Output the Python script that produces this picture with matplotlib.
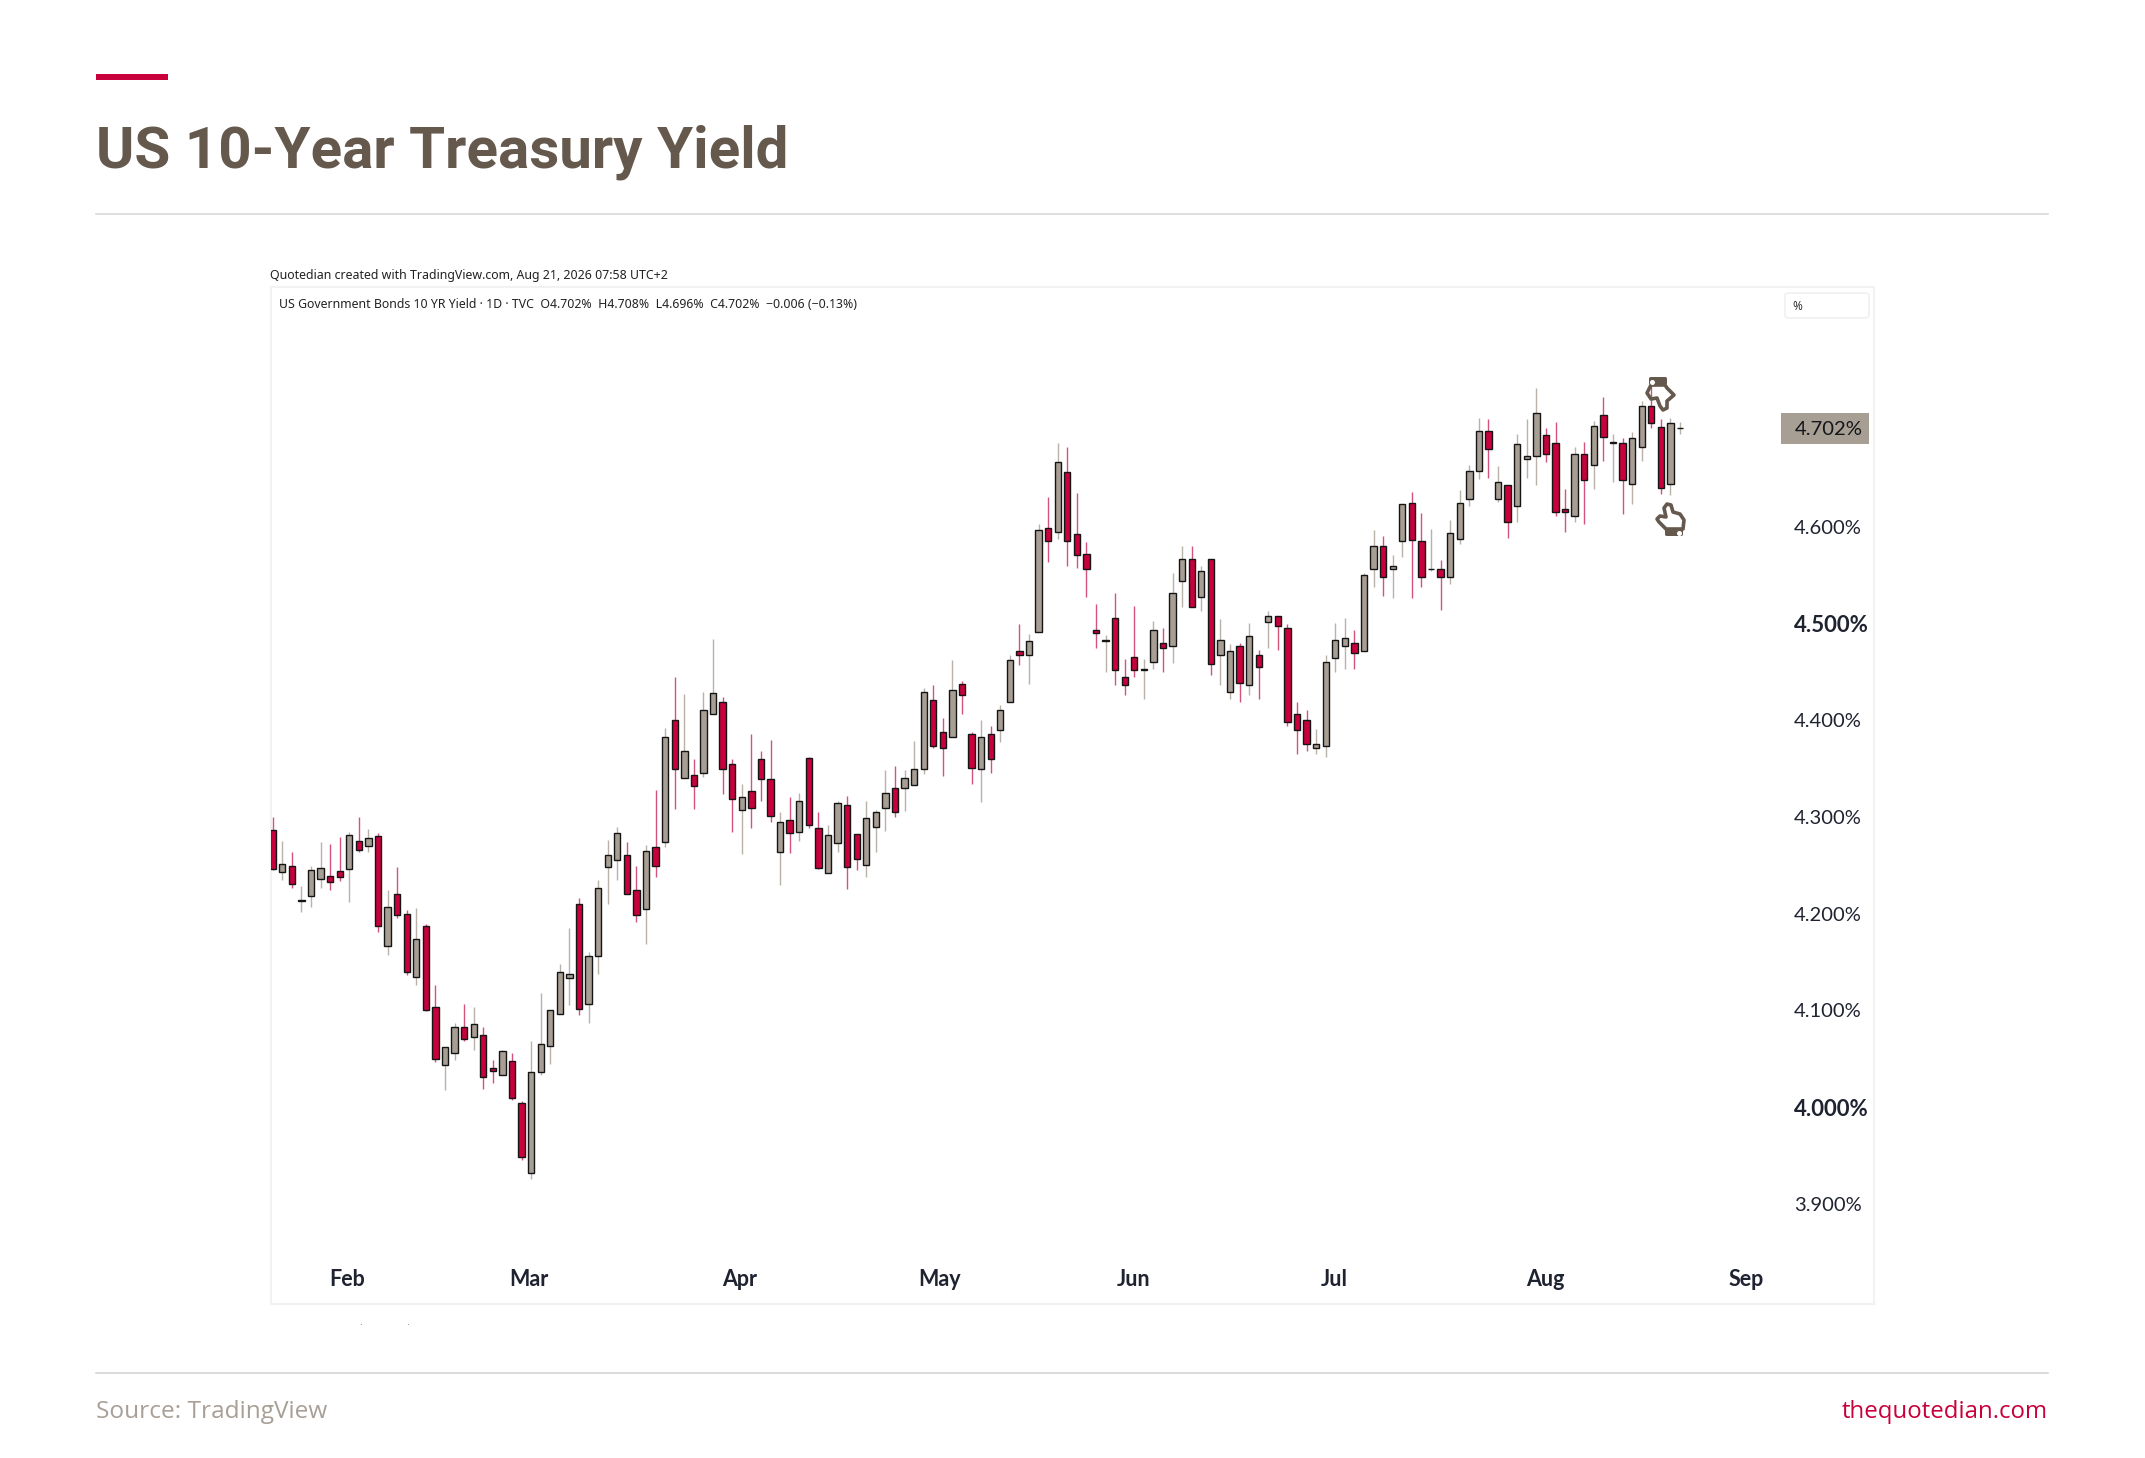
import numpy as np
import matplotlib as mpl
mpl.use('Agg')
import matplotlib.pyplot as plt
from matplotlib.patches import Rectangle, FancyBboxPatch, PathPatch
from matplotlib.path import Path

opens = [4.287,4.243,4.249,4.213,4.218,4.236,4.239,4.244,4.246,4.275,
         4.270,4.280,4.167,4.220,4.200,4.135,4.187,4.104,4.044,4.056,
         4.083,4.073,4.075,4.040,4.033,4.048,4.004,3.932,4.036,4.063,
         4.096,4.134,4.210,4.107,4.156,4.248,4.256,4.261,4.225,4.205,
         4.269,4.274,4.400,4.340,4.343,4.345,4.406,4.419,4.355,4.307,
         4.327,4.360,4.339,4.264,4.297,4.284,4.361,4.289,4.242,4.273,
         4.312,4.282,4.250,4.290,4.309,4.330,4.330,4.333,4.350,4.421,
         4.388,4.383,4.438,4.386,4.350,4.386,4.390,4.419,4.472,4.468,
         4.491,4.599,4.595,4.657,4.593,4.572,4.493,4.482,4.506,4.445,
         4.465,4.452,4.460,4.480,4.477,4.544,4.567,4.527,4.567,4.467,
         4.429,4.477,4.437,4.468,4.502,4.508,4.495,4.406,4.400,4.371,
         4.373,4.464,4.477,4.480,4.472,4.556,4.580,4.556,4.585,4.625,
         4.585,4.556,4.556,4.548,4.587,4.629,4.658,4.699,4.629,4.643,
         4.622,4.670,4.673,4.695,4.687,4.618,4.611,4.675,4.664,4.716,
         4.687,4.687,4.644,4.683,4.725,4.703,4.644,4.702]
highs = [4.300,4.275,4.264,4.229,4.249,4.274,4.272,4.279,4.284,4.300,
         4.288,4.283,4.225,4.248,4.204,4.206,4.189,4.126,4.062,4.087,
         4.107,4.104,4.083,4.049,4.059,4.056,4.006,4.068,4.118,4.100,
         4.148,4.185,4.216,4.160,4.235,4.276,4.290,4.274,4.249,4.271,
         4.328,4.392,4.445,4.427,4.360,4.429,4.484,4.424,4.360,4.334,
         4.386,4.368,4.380,4.305,4.321,4.325,4.362,4.305,4.292,4.317,
         4.322,4.282,4.317,4.307,4.349,4.353,4.349,4.379,4.433,4.436,
         4.402,4.462,4.441,4.388,4.400,4.394,4.416,4.467,4.500,4.489,
         4.603,4.631,4.687,4.683,4.635,4.584,4.520,4.488,4.532,4.463,
         4.518,4.463,4.503,4.495,4.552,4.580,4.580,4.560,4.567,4.505,
         4.479,4.480,4.501,4.473,4.513,4.508,4.500,4.419,4.411,4.391,
         4.468,4.501,4.506,4.493,4.552,4.597,4.591,4.571,4.624,4.636,
         4.614,4.598,4.566,4.607,4.638,4.664,4.713,4.712,4.663,4.643,
         4.696,4.712,4.744,4.702,4.708,4.639,4.683,4.688,4.709,4.734,
         4.696,4.692,4.698,4.730,4.748,4.712,4.713,4.708]
lows = [4.245,4.235,4.227,4.202,4.207,4.227,4.225,4.234,4.212,4.264,
        4.264,4.181,4.157,4.196,4.137,4.126,4.099,4.047,4.018,4.049,
        4.068,4.059,4.019,4.025,4.033,4.007,3.945,3.926,4.033,4.045,
        4.096,4.106,4.095,4.087,4.138,4.210,4.235,4.220,4.191,4.169,
        4.238,4.269,4.308,4.340,4.308,4.341,4.406,4.324,4.285,4.262,
        4.289,4.317,4.295,4.230,4.263,4.275,4.289,4.246,4.242,4.264,
        4.226,4.245,4.238,4.264,4.286,4.300,4.306,4.333,4.344,4.371,
        4.342,4.383,4.406,4.334,4.316,4.346,4.378,4.419,4.457,4.438,
        4.491,4.564,4.587,4.560,4.557,4.528,4.475,4.450,4.436,4.426,
        4.445,4.422,4.453,4.450,4.459,4.517,4.517,4.513,4.447,4.437,
        4.422,4.419,4.426,4.422,4.475,4.473,4.394,4.365,4.368,4.365,
        4.362,4.450,4.453,4.453,4.472,4.538,4.529,4.526,4.569,4.526,
        4.538,4.554,4.514,4.541,4.582,4.622,4.650,4.651,4.626,4.588,
        4.605,4.651,4.643,4.667,4.611,4.595,4.605,4.603,4.639,4.668,
        4.646,4.613,4.624,4.668,4.702,4.634,4.633,4.696]
closes = [4.246,4.251,4.231,4.214,4.245,4.247,4.233,4.238,4.281,4.266,
          4.278,4.187,4.207,4.199,4.140,4.174,4.100,4.050,4.062,4.083,
          4.071,4.086,4.031,4.037,4.058,4.009,3.949,4.036,4.065,4.100,
          4.140,4.138,4.102,4.156,4.227,4.261,4.283,4.220,4.199,4.265,
          4.249,4.383,4.350,4.368,4.332,4.411,4.428,4.350,4.319,4.321,
          4.309,4.339,4.301,4.295,4.283,4.317,4.292,4.247,4.281,4.315,
          4.248,4.257,4.299,4.305,4.325,4.305,4.340,4.350,4.429,4.373,
          4.371,4.431,4.426,4.351,4.383,4.360,4.411,4.462,4.467,4.482,
          4.597,4.585,4.667,4.585,4.571,4.556,4.490,4.483,4.452,4.437,
          4.452,4.453,4.493,4.475,4.532,4.567,4.517,4.554,4.458,4.483,
          4.472,4.439,4.487,4.455,4.508,4.498,4.398,4.390,4.376,4.376,
          4.460,4.483,4.485,4.470,4.550,4.580,4.548,4.560,4.624,4.586,
          4.548,4.556,4.548,4.594,4.625,4.658,4.699,4.681,4.646,4.605,
          4.686,4.673,4.718,4.675,4.615,4.615,4.675,4.648,4.704,4.693,
          4.688,4.648,4.692,4.725,4.707,4.640,4.707,4.702]

month_labels = ['Feb', 'Mar', 'Apr', 'May', 'Jun', 'Jul', 'Aug', 'Sep']
month_bars = [7.76, 26.8, 48.8, 69.7, 89.9, 110.9, 132.9, 153.9]
y_ticks = [3.9, 4.0, 4.1, 4.2, 4.3, 4.4, 4.5, 4.6]
bold_ticks = [4.0, 4.5]
last_close = 4.702

W, H = 2145, 1458
RED = '#c8003c'
GREY = '#a89f94'
BROWN = '#65584c'
INK = '#1f2330'
plt.rcParams['font.family'] = ['Roboto', 'DejaVu Sans']

def fx(px):
    return px / W

def fy(py):
    return 1 - py / H

fig = plt.figure(figsize=(W / 100, H / 100), dpi=100, facecolor='w')

# page furniture
fig.add_artist(Rectangle((fx(96), fy(80)), 72 / W, 6 / H, transform=fig.transFigure, fc=RED, ec='none'))
fig.text(fx(96), fy(168), 'US 10-Year Treasury Yield', fontsize=42, fontweight='bold', color=BROWN, va='baseline')
fig.add_artist(plt.Line2D([fx(96), fx(2048)], [fy(213.5), fy(213.5)], color='#d6d6d6', lw=1.1))
fig.add_artist(plt.Line2D([fx(96), fx(2048)], [fy(1372.5), fy(1372.5)], color='#d0d0d0', lw=1.1))
fig.text(fx(96), fy(1418), 'Source: TradingView', fontsize=17.6, color='#a89f96', family='Open Sans', va='baseline')
fig.text(fx(2048), fy(1418), 'thequotedian.com', fontsize=17.3, color=RED, family='Open Sans', va='baseline', ha='right')

# chart frame in pixels: x 271-1874, y 287-1304
ax = fig.add_axes([fx(271), fy(1304), (1874 - 271) / W, (1304 - 287) / H])
for s in ax.spines.values():
    s.set_color('#f2f2f2')
    s.set_linewidth(1.5)
ax.set_xlim(-0.178, 167.27)
ax.set_ylim(3.7965, 4.848)

xs = np.arange(len(opens))
o = np.array(opens)
c = np.array(closes)
up = c >= o
wick_cols = ['#b9b2a9' if u else '#d4537c' for u in up]
ax.vlines(xs, lows, highs, colors=wick_cols, lw=1.0, zorder=2)
body_cols = [GREY if u else RED for u in up]
ax.bar(xs, np.abs(c - o), width=0.66, bottom=np.minimum(o, c), color=body_cols,
       edgecolor='#151515', linewidth=1.0, zorder=3)

ax.set_xticks(month_bars)
ax.set_xticklabels(month_labels, fontsize=15.5, fontweight='bold', family='Lato', color=INK)
ax.tick_params(axis='x', length=0, pad=-25)
ax.yaxis.tick_right()
ax.set_yticks(y_ticks)
ax.set_yticklabels(['%.3f%%' % v for v in y_ticks], fontsize=14.5, family='Lato', color=INK, ha='left')
ax.tick_params(axis='y', length=0, pad=-57.6)
for lab, v in zip(ax.get_yticklabels(), y_ticks):
    if v in bold_ticks:
        lab.set_fontweight('bold')
        lab.set_fontsize(16)

# last price tag
ax.add_patch(Rectangle((fx(1781), fy(444)), 88 / W, 31 / H, transform=fig.transFigure, fc=GREY, ec='none',
                       zorder=5, clip_on=False))
ax.annotate('4.702%', xy=(1, last_close), xycoords=('axes fraction', 'data'), xytext=(-56.8, -1.2),
            textcoords='offset points', fontsize=14.6, family='Lato', color='#14161c', va='center', ha='left',
            zorder=6)

# header lines and unit box
fig.text(fx(270), fy(275), 'Quotedian created with TradingView.com, Aug 21, 2026 07:58 UTC+2',
         fontsize=8.9, family='Noto Sans', color='#222222', va='center')
fig.text(fx(279), fy(304.5), 'US Government Bonds 10 YR Yield · 1D · TVC  O4.702%  H4.708%  L4.696%  C4.702%  −0.006 (−0.13%)',
         fontsize=8.85, family='Noto Sans', color='#222222', va='center')
fig.add_artist(FancyBboxPatch((fx(1785), fy(318)), 84 / W, 25 / H, boxstyle='round,pad=0,rounding_size=0.002',
                              transform=fig.transFigure, fc='w', ec='#f0f0f0', lw=1.2))
fig.text(fx(1797), fy(306), '%', fontsize=8.5, family='Noto Sans', color='#333333', va='center', ha='center')

# faint remnants under the chart
fig.text(fx(361), fy(1325), '·', fontsize=8, color='#777777', ha='center', va='center')
fig.text(fx(408), fy(1325), '·', fontsize=8, color='#777777', ha='center', va='center')

# event markers (hands), outlines in pixels
def hand(points, cuff, dot):
    verts = [(fx(x), fy(y)) for x, y in points]
    verts.append(verts[0])
    codes = [Path.MOVETO] + [Path.LINETO] * (len(points) - 1) + [Path.CLOSEPOLY]
    fig.add_artist(PathPatch(Path(verts, codes), transform=fig.transFigure, fc='none', ec=BROWN,
                             lw=2.6, joinstyle='round', zorder=7))
    x0, y0, x1, y1 = cuff
    fig.add_artist(FancyBboxPatch((fx(x0), fy(y1)), (x1 - x0) / W, (y1 - y0) / H,
                                  boxstyle='round,pad=0,rounding_size=0.001', transform=fig.transFigure,
                                  fc=BROWN, ec='none', zorder=8))
    fig.add_artist(plt.Line2D([fx(dot[0])], [fy(dot[1])], marker='o', ms=2.6, color='w', zorder=9))

hand([(1651, 385), (1647, 393), (1651, 399), (1657, 398), (1660, 406), (1663, 410), (1667, 408),
      (1667, 401), (1674, 395), (1667, 388), (1665, 385)], (1649, 377, 1667, 385), (1652, 382))
hand([(1666, 529), (1659, 522), (1657, 519), (1660, 516), (1666, 517), (1664, 508), (1667, 504),
      (1671, 505), (1673, 512), (1680, 514), (1684, 520), (1683, 529)], (1665, 529, 1683, 536), (1679, 533))

plt.savefig('out.png', dpi=100, facecolor='w')
